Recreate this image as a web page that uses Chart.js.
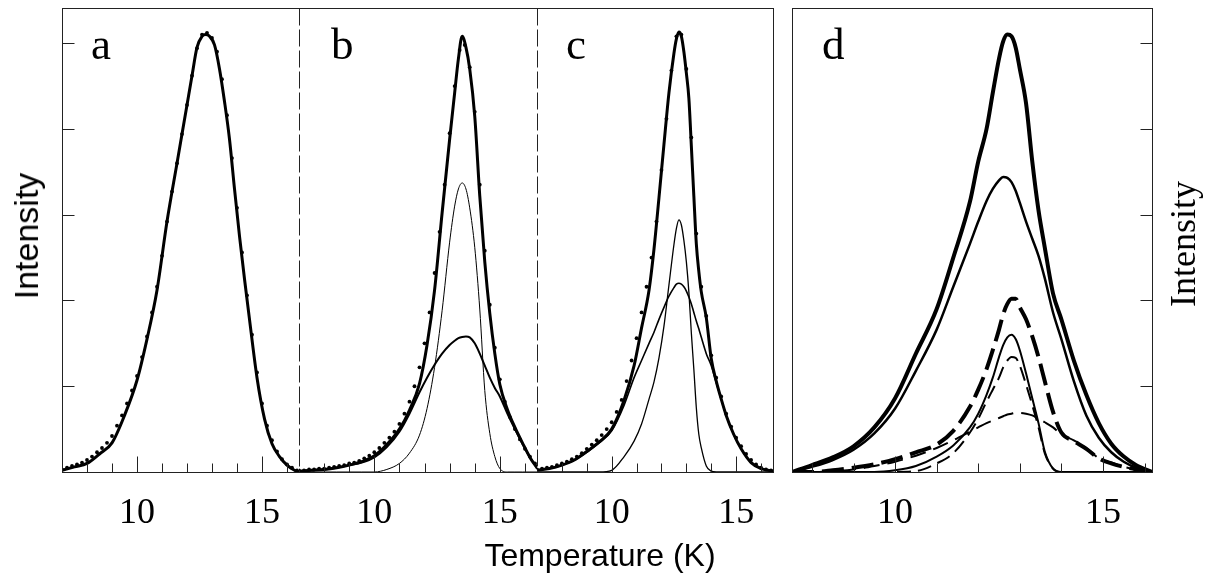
<!DOCTYPE html>
<html>
<head>
<meta charset="utf-8">
<script src="https://cdn.jsdelivr.net/npm/chart.js@4.4.0/dist/chart.umd.min.js"></script>
<style>
    body { margin: 0; background: #fff; }
    #wrap { position: relative; width: 1213px; height: 577px; overflow: hidden; background: #fff; }
    #wrap canvas { position: absolute; left: 0; top: 0; }
    .lbl { position: absolute; color: #000; white-space: nowrap; line-height: 1; }
    .serif { font-family: 'Liberation Serif', 'Times New Roman', serif; }
    .sans { font-family: 'Liberation Sans', Arial, sans-serif; }
    .rot { transform: translate(-50%, -50%) rotate(-90deg); }
</style>
</head>
<body>
<div id="wrap">
    <canvas id="chartA" width="1213" height="577"></canvas>
    <canvas id="chartB" width="1213" height="577"></canvas>
    <canvas id="chartC" width="1213" height="577"></canvas>
    <canvas id="chartD" width="1213" height="577"></canvas>

    <div class="lbl serif" style="left:91px;top:22px;font-size:45px">a</div>
    <div class="lbl serif" style="left:331px;top:22px;font-size:45px">b</div>
    <div class="lbl serif" style="left:566px;top:22px;font-size:45px">c</div>
    <div class="lbl serif" style="left:822px;top:22px;font-size:45px">d</div>

    <div class="lbl sans rot" style="left:26px;top:236px;font-size:34px">Intensity</div>
    <div class="lbl serif rot" style="left:1183px;top:244px;font-size:36px">Intensity</div>
    <div class="lbl sans" style="left:600px;top:539px;font-size:32px;transform:translateX(-50%)">Temperature (K)</div>
</div>

<script>
// ========== DATA (Temperature in K, intensity in arbitrary units) ==========
const xTickValues = [7, 8, 9, 10, 11, 12, 13, 14, 15, 16];
const xMajorTicks = [10, 15];
const xTickLabels = ['10', '15'];
const yTickValues = [1, 2, 3, 4, 5];

// measured points (dots), shared temperature grid for a, b, c
const dotTemps = [7.0, 7.2, 7.4, 7.6, 7.8, 8.0, 8.2, 8.4, 8.6, 8.8, 9.0, 9.2, 9.4, 9.6, 9.8, 10.0,
    10.2, 10.4, 10.6, 10.8, 11.0, 11.2, 11.4, 11.6, 11.8, 12.0, 12.2, 12.4, 12.6, 12.8, 13.0, 13.2,
    13.4, 13.6, 13.8, 14.0, 14.2, 14.4, 14.6, 14.8, 15.0, 15.2, 15.4, 15.6, 15.8, 16.0, 16.2, 16.4];
const aDots = [0.03, 0.05, 0.07, 0.09, 0.11, 0.14, 0.18, 0.23, 0.28, 0.34, 0.42, 0.54, 0.66, 0.80, 0.95, 1.12,
    1.34, 1.58, 1.86, 2.16, 2.52, 2.92, 3.27, 3.60, 3.94, 4.28, 4.62, 4.94, 5.10, 5.12, 5.06, 4.90,
    4.58, 4.16, 3.66, 3.08, 2.56, 2.06, 1.60, 1.16, 0.80, 0.54, 0.37, 0.24, 0.15, 0.09, 0.05, 0.02];
const bDots = [0.02, 0.02, 0.03, 0.03, 0.04, 0.04, 0.05, 0.06, 0.07, 0.08, 0.10, 0.11, 0.13, 0.16, 0.19, 0.23,
    0.28, 0.34, 0.40, 0.47, 0.56, 0.68, 0.82, 1.00, 1.22, 1.50, 1.86, 2.32, 2.80, 3.35, 3.95, 4.50,
    4.92, 4.98, 4.72, 4.20, 3.35, 2.58, 1.95, 1.45, 1.08, 0.82, 0.64, 0.50, 0.38, 0.27, 0.18, 0.10];
const cDots = [0.03, 0.04, 0.05, 0.06, 0.08, 0.10, 0.12, 0.15, 0.18, 0.22, 0.27, 0.32, 0.37, 0.43, 0.50, 0.58,
    0.70, 0.84, 1.06, 1.30, 1.56, 1.86, 2.16, 2.50, 2.92, 3.52, 4.12, 4.68, 5.08, 5.10, 4.70, 3.90,
    2.78, 2.16, 1.82, 1.36, 1.10, 0.88, 0.68, 0.53, 0.40, 0.30, 0.21, 0.14, 0.09, 0.05, 0.03, 0.02];

// panel a: single-peak fit
const aTemps = [7.0, 7.5, 8.0, 8.5, 9.0, 9.5, 10.0, 10.4, 10.8, 11.2, 11.6, 12.0, 12.2, 12.4, 12.6, 12.75,
    12.9, 13.1, 13.3, 13.5, 13.7, 13.9, 14.1, 14.3, 14.5, 14.8, 15.1, 15.4, 15.7, 16.0, 16.3, 16.5];
const aFit = [0.02, 0.06, 0.10, 0.21, 0.34, 0.66, 1.07, 1.55, 2.12, 2.92, 3.60, 4.28, 4.62, 4.95, 5.08, 5.10,
    5.08, 4.98, 4.70, 4.32, 3.88, 3.30, 2.75, 2.25, 1.78, 1.10, 0.62, 0.33, 0.18, 0.08, 0.02, 0.0];

// panel b: total fit, narrow and broad components
const bTemps = [7.0, 7.5, 8.0, 8.5, 9.0, 9.5, 10.0, 10.5, 11.0, 11.4, 11.8, 12.1, 12.4, 12.7, 13.0, 13.2,
    13.35, 13.5, 13.65, 13.8, 14.0, 14.2, 14.4, 14.6, 14.8, 15.0, 15.3, 15.6, 15.9, 16.2, 16.5];
const bFit = [0.01, 0.02, 0.03, 0.05, 0.08, 0.12, 0.19, 0.32, 0.50, 0.72, 1.03, 1.48, 2.12, 3.02, 3.88, 4.42,
    4.82, 5.08, 4.95, 4.70, 4.15, 3.22, 2.45, 1.85, 1.38, 1.02, 0.73, 0.52, 0.34, 0.17, 0.04];
const bNarrow = [0, 0, 0, 0, 0, 0, 0, 0.03, 0.10, 0.22, 0.43, 0.74, 1.22, 1.88, 2.68, 3.10,
    3.30, 3.37, 3.30, 3.08, 2.62, 1.90, 0.95, 0.45, 0.18, 0.04, 0, 0, 0, 0, 0];
const bBroad = [0.01, 0.02, 0.03, 0.05, 0.08, 0.11, 0.17, 0.29, 0.47, 0.68, 0.93, 1.10, 1.25, 1.38, 1.48, 1.53,
    1.56, 1.575, 1.58, 1.57, 1.50, 1.38, 1.24, 1.10, 0.98, 0.88, 0.68, 0.50, 0.33, 0.17, 0.04];

// panel c: total fit, narrow and broad components
const cTemps = [7.0, 7.5, 8.0, 8.5, 9.0, 9.5, 10.0, 10.5, 10.9, 11.2, 11.5, 11.7, 11.9, 12.1, 12.3, 12.5,
    12.6, 12.7, 12.8, 12.9, 13.0, 13.1, 13.2, 13.3, 13.4, 13.5, 13.6, 13.8, 14.0, 14.2, 14.4, 14.6,
    14.9, 15.2, 15.6, 16.0, 16.5];
const cFit = [0.02, 0.04, 0.08, 0.14, 0.24, 0.35, 0.50, 0.84, 1.24, 1.68, 2.12, 2.60, 3.20, 3.82, 4.42, 4.88,
    5.05, 5.13, 5.08, 4.90, 4.65, 4.36, 3.80, 3.22, 2.66, 2.34, 2.10, 1.80, 1.32, 1.06, 0.85, 0.66,
    0.44, 0.27, 0.11, 0.04, 0.01];
const cNarrow = [0, 0, 0, 0, 0, 0, 0.02, 0.18, 0.36, 0.56, 0.85, 1.05, 1.33, 1.70, 2.18, 2.65,
    2.84, 2.94, 2.88, 2.70, 2.45, 2.10, 1.62, 1.20, 0.75, 0.44, 0.28, 0.07, 0.01, 0, 0, 0,
    0, 0, 0, 0, 0];
const cBroad = [0.02, 0.04, 0.08, 0.14, 0.23, 0.34, 0.48, 0.78, 1.10, 1.30, 1.50, 1.63, 1.78, 1.92, 2.05, 2.15,
    2.19, 2.20, 2.19, 2.16, 2.11, 2.04, 1.96, 1.86, 1.76, 1.67, 1.57, 1.38, 1.24, 1.04, 0.85, 0.66,
    0.44, 0.27, 0.11, 0.04, 0.01];

// panel d: decomposition curves
const dTemps = [7.52, 8.0, 8.5, 9.0, 9.5, 10.0, 10.5, 11.0, 11.4, 11.8, 12.0, 12.2, 12.35, 12.5, 12.6, 12.7,
    12.8, 12.9, 13.0, 13.15, 13.3, 13.45, 13.6, 13.8, 14.0, 14.3, 14.6, 14.9, 15.2, 15.5, 15.8, 16.18];
const dTotal = [0.0, 0.08, 0.17, 0.30, 0.52, 0.86, 1.38, 1.90, 2.50, 3.15, 3.62, 4.00, 4.42, 4.82, 5.02, 5.10,
    5.08, 4.95, 4.70, 4.30, 3.62, 3.05, 2.62, 2.08, 1.78, 1.30, 0.90, 0.57, 0.33, 0.18, 0.08, 0.0];
const dBroadSolid = [0.0, 0.06, 0.14, 0.26, 0.45, 0.74, 1.18, 1.66, 2.16, 2.66, 2.92, 3.16, 3.30, 3.40, 3.44, 3.43,
    3.38, 3.28, 3.14, 2.92, 2.72, 2.52, 2.26, 1.86, 1.55, 1.06, 0.66, 0.40, 0.23, 0.12, 0.05, 0.0];
const dDashTotal = [0.0, 0.0, 0.02, 0.05, 0.09, 0.15, 0.23, 0.32, 0.48, 0.76, 0.96, 1.20, 1.42, 1.66, 1.84, 1.96,
    2.02, 2.02, 1.92, 1.78, 1.58, 1.34, 1.06, 0.70, 0.46, 0.36, 0.27, 0.16, 0.10, 0.06, 0.03, 0.0];
const dNarrowSolid = [0, 0, 0, 0, 0, 0.02, 0.07, 0.18, 0.31, 0.52, 0.68, 0.90, 1.10, 1.34, 1.48, 1.57,
    1.60, 1.55, 1.42, 1.15, 0.86, 0.57, 0.24, 0.04, 0, 0, 0, 0, 0, 0, 0, 0];
const dNarrowDash = [0, 0, 0, 0, 0, 0, 0.01, 0.10, 0.22, 0.46, 0.62, 0.82, 0.96, 1.10, 1.22, 1.30,
    1.34, 1.33, 1.24, 1.02, 0.78, 0.52, 0.22, 0.04, 0, 0, 0, 0, 0, 0, 0, 0];
const dBroadDash = [0, 0, 0.01, 0.03, 0.07, 0.12, 0.19, 0.28, 0.37, 0.47, 0.52, 0.57, 0.60, 0.63, 0.65, 0.67,
    0.68, 0.69, 0.69, 0.68, 0.66, 0.62, 0.58, 0.52, 0.44, 0.37, 0.28, 0.16, 0.11, 0.06, 0.03, 0];

// ========== HELPERS ==========
function pts(temps, vals) {
    return temps.map((t, i) => ({ x: t, y: vals[i] }));
}

function dots(temps, vals) {
    return {
        data: pts(temps, vals),
        showLine: false,
        pointRadius: 1.9,
        pointBackgroundColor: '#000',
        pointBorderWidth: 0
    };
}

function curve(temps, vals, width, dash) {
    return {
        data: pts(temps, vals),
        borderColor: '#000',
        borderWidth: width,
        borderDash: dash || [],
        pointRadius: 0,
        fill: false,
        cubicInterpolationMode: 'monotone'
    };
}

// frame, ticks and tick labels drawn through each chart's own scales
const panelFrame = {
    id: 'panelFrame',
    afterDatasetsDraw(chart, args, opts) {
        const { ctx, chartArea: ca, scales: { x, y } } = chart;
        const L = Math.round(ca.left) + 0.5, R = Math.round(ca.right) + 0.5;
        const T = Math.round(ca.top) + 0.5, B = Math.round(ca.bottom) + 0.5;
        ctx.save();
        ctx.strokeStyle = '#222';
        ctx.lineWidth = 1;

        function seg(x1, y1, x2, y2, dash) {
            ctx.setLineDash(dash || []);
            ctx.beginPath();
            ctx.moveTo(x1, y1);
            ctx.lineTo(x2, y2);
            ctx.stroke();
        }

        seg(L - 0.5, T, R + 0.5, T);
        seg(L - 0.5, B, R + 0.5, B);
        if (opts.left === 'solid') seg(L, T, L, B);
        if (opts.left === 'dashed') seg(L, T, L, B, [17, 4]);
        if (opts.right === 'solid') seg(R, T, R, B);

        // x ticks point up into the plot
        xTickValues.forEach(v => {
            if (v <= x.min || v >= x.max) return;
            const px = Math.round(x.getPixelForValue(v)) + 0.5;
            const len = xMajorTicks.includes(v) ? 16 : 9;
            seg(px, B, px, B - len);
        });

        // y ticks on the chosen side
        if (opts.yTicks) {
            yTickValues.forEach(v => {
                const py = Math.round(y.getPixelForValue(v)) + 0.5;
                if (opts.yTicks === 'left') seg(L, py, L + 12, py);
                else seg(R, py, R - 12, py);
            });
        }

        // tick labels
        ctx.fillStyle = '#000';
        ctx.font = "36px 'Liberation Serif', 'Times New Roman', serif";
        ctx.textAlign = 'center';
        ctx.textBaseline = 'alphabetic';
        xMajorTicks.forEach((v, i) => {
            ctx.fillText(xTickLabels[i], x.getPixelForValue(v), ca.bottom + 51);
        });
        ctx.restore();
    }
};

function makeChart(id, datasets, area, xMin, xMax, frameOpts) {
    return new Chart(document.getElementById(id), {
        type: 'line',
        data: { datasets: datasets },
        plugins: [panelFrame],
        options: {
            responsive: false,
            animation: false,
            devicePixelRatio: 1,
            layout: {
                padding: { left: area.left, top: area.top, right: 1213 - area.right, bottom: 577 - area.bottom }
            },
            plugins: {
                legend: { display: false },
                tooltip: { enabled: false },
                panelFrame: frameOpts
            },
            scales: {
                x: { type: 'linear', min: xMin, max: xMax, display: false },
                y: { type: 'linear', min: 0, max: 5.41, display: false }
            }
        }
    });
}

// ========== CHARTS ==========
makeChart('chartA', [
    curve(aTemps, aFit, 3),
    dots(dotTemps, aDots)
], { left: 62, right: 299, top: 8, bottom: 472 }, 7, 16.48, { left: 'solid', yTicks: 'left' });

makeChart('chartB', [
    curve(bTemps, bFit, 3),
    curve(bTemps, bNarrow, 1),
    curve(bTemps, bBroad, 2),
    dots(dotTemps, bDots)
], { left: 299, right: 537, top: 8, bottom: 472 }, 7, 16.48, { left: 'dashed' });

makeChart('chartC', [
    curve(cTemps, cFit, 3),
    curve(cTemps, cNarrow, 1.3),
    curve(cTemps, cBroad, 1.6),
    dots(dotTemps, cDots)
], { left: 537, right: 773, top: 8, bottom: 472 }, 7, 16.48, { left: 'dashed', right: 'solid' });

makeChart('chartD', [
    curve(dTemps, dTotal, 4),
    curve(dTemps, dBroadSolid, 2.5),
    curve(dTemps, dDashTotal, 4, [22, 8]),
    curve(dTemps, dNarrowSolid, 2),
    curve(dTemps, dNarrowDash, 2, [14, 7]),
    curve(dTemps, dBroadDash, 2, [16, 8])
], { left: 792, right: 1152, top: 8, bottom: 472 }, 7.52, 16.18, { left: 'solid', right: 'solid', yTicks: 'right' });
</script>
</body>
</html>
